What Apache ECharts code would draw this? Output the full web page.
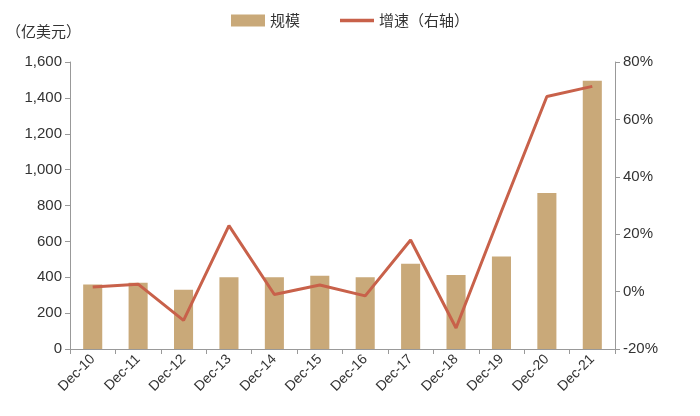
<!DOCTYPE html>
<html>
<head>
<meta charset="utf-8">
<script src="https://cdn.jsdelivr.net/npm/echarts@6/dist/echarts.min.js"></script>
<style>html,body{margin:0;padding:0;background:#fff}#container{width:700px;height:416px}</style>
</head>
<body>
<div id="container"></div>
<script>
// data
var categories = ['Dec-10','Dec-11','Dec-12','Dec-13','Dec-14','Dec-15','Dec-16','Dec-17','Dec-18','Dec-19','Dec-20','Dec-21'];
var scale = [360, 370, 330, 400, 400, 408, 400, 475, 413, 515, 870, 1495];
var growth = [1.6, 2.6, -10, 23, -1, 2.3, -1.5, 18, -12.7, 28, 68, 71.5];

var myChart = echarts.init(document.getElementById('container'));
var font = '"Noto Sans CJK SC", "Liberation Sans", sans-serif';
var numFont = '"Liberation Sans", Arial, sans-serif';
var option = {
    textStyle: { fontFamily: font },
    legend: {
        top: 8,
        left: 'center',
        itemGap: 40,
        textStyle: { fontSize: 15, color: '#333', fontFamily: font },
        data: [
            { name: '规模', icon: 'rect', itemStyle: { color: '#C9A979' } },
            { name: '增速（右轴）', icon: 'path://M0,0 L10,0 L10,1 L0,1 Z' }
        ],
        itemWidth: 34,
        itemHeight: 12
    },
    graphic: [{
        type: 'text', left: 6, top: 24,
        style: { text: '（亿美元）', font: '15px ' + font, fill: '#333' }
    }],
    grid: { left: 70, right: 85, top: 62, bottom: 67 },
    xAxis: {
        type: 'category',
        data: categories,
        axisLine: { lineStyle: { color: '#999' } },
        axisTick: { show: true, lineStyle: { color: '#999' } },
        axisLabel: { rotate: 45, color: '#333', fontSize: 14, margin: 8, fontFamily: numFont }
    },
    yAxis: [{
        type: 'value', min: 0, max: 1600, interval: 200,
        axisLine: { show: true, lineStyle: { color: '#999' } },
        axisTick: { show: true, lineStyle: { color: '#999' } },
        splitLine: { show: false },
        axisLabel: { color: '#333', fontSize: 15, fontFamily: numFont,
            formatter: function (v) { return v.toLocaleString('en-US'); } }
    }, {
        type: 'value', min: -20, max: 80, interval: 20,
        axisLine: { show: true, lineStyle: { color: '#999' } },
        axisTick: { show: true, lineStyle: { color: '#999' } },
        splitLine: { show: false },
        axisLabel: { color: '#333', fontSize: 15, fontFamily: numFont, formatter: '{value}%' }
    }],
    series: [{
        name: '规模', type: 'bar', data: scale, barWidth: '42%',
        itemStyle: { color: '#C9A979' }
    }, {
        name: '增速（右轴）', type: 'line', yAxisIndex: 1, data: growth,
        symbol: 'none', lineStyle: { color: '#C8614A', width: 3 },
        itemStyle: { color: '#C8614A' }
    }]
};
myChart.setOption(option, true);
</script>
</body>
</html>
